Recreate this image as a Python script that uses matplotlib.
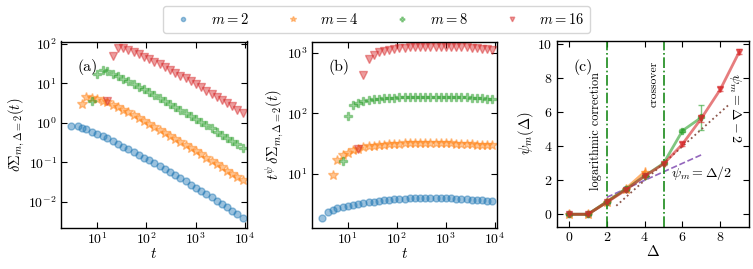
import numpy as np
import matplotlib
matplotlib.use("Agg")
import matplotlib.pyplot as plt
from matplotlib.ticker import LogLocator, NullLocator

plt.rcParams["font.family"] = "serif"
plt.rcParams["font.serif"] = ["cmr10", "DejaVu Serif"]
plt.rcParams["mathtext.fontset"] = "cm"
plt.rcParams["axes.formatter.use_mathtext"] = True
plt.rcParams["axes.unicode_minus"] = False
plt.rcParams["font.size"] = 10

# time grid shared by all curves (each series starts later)
t = [3, 4, 5, 6, 8, 10, 13, 16, 21, 27, 34, 43, 55, 70, 90, 114, 145, 185,
     236, 301, 384, 489, 623, 794, 1012, 1290, 1644, 2095, 2670, 3403, 4337,
     5527, 7044, 8978]

labels = ["$m=2$", "$m=4$", "$m=8$", "$m=16$"]
colors = ["#1f77b4", "#ff7f0e", "#2ca02c", "#d62728"]
markers = ["o", "*", "P", "v"]

# t^psi * dSigma  (panel b)
scaled_m2 = [1.85, 2.29, 2.5, 2.67, 2.81, 2.95, 3.07, 3.19, 3.31, 3.4, 3.47,
             3.57, 3.66, 3.71, 3.78, 3.84, 3.88, 3.91, 3.93, 3.95, 3.96, 3.97,
             3.97, 3.96, 3.95, 3.92, 3.88, 3.84, 3.8, 3.75, 3.7, 3.64, 3.58, 3.53]
scaled_m4 = [9.6, 16.6, 20.4, 22.5, 24.5, 26, 27.3, 28.4, 29.2, 29.9, 30.4,
             30.8, 31.2, 31.5, 31.8, 32, 32.1, 32.2, 32.3, 32.3, 32.3, 32.2,
             32.1, 31.9, 31.7, 31.4, 31.1, 30.8, 30.5, 30.2, 29.8, 29.5]
scaled_m8 = [16, 92, 138, 150, 160, 166, 170, 174, 177, 180, 183, 185, 187,
             188, 189, 190, 190, 190, 190, 190, 189, 188, 187, 186, 184, 182,
             180, 178, 176, 173]
scaled_m16 = [26, 436, 805, 940, 1025, 1085, 1130, 1165, 1195, 1215, 1235,
              1250, 1260, 1270, 1275, 1280, 1280, 1280, 1275, 1265, 1255, 1240,
              1220, 1200, 1180, 1160, 1135]
# exponent psi_m(Delta=2) used for the rescaling
psi_d2 = [0.745, 0.74, 0.725, 0.71]

# panel c
delta = [0, 1, 2, 3, 4, 5, 6, 7, 8, 9]
psi_m2 = [0, 0, 0.74, 1.5]
psi_m4 = [0, 0, 0.74, 1.5, 2.5]
psi_m8 = [0, 0, 0.72, 1.47, 2.25, 3.0, 4.92, 5.7]
psi_m16 = [0, 0, 0.7, 1.43, 2.25, 2.96, 4.13, 5.65, 7.35, 9.56]
err_m8 = [0.02, 0.02, 0.05, 0.05, 0.05, 0.05, 0.1, 0.72]
err_m16 = [0.02, 0.02, 0.05, 0.05, 0.05, 0.05, 0.1, 0.2, 0.12, 0.15]

scaled = [scaled_m2, scaled_m4, scaled_m8, scaled_m16]
psis = [psi_m2, psi_m4, psi_m8, psi_m16]
errs = [None, None, err_m8, err_m16]

fig = plt.figure(figsize=(7.53, 2.69), dpi=100)
axa = fig.add_axes([61/753, 41.5/269, 186/753, 186/269])
axb = fig.add_axes([311.7/753, 41.5/269, 185/753, 186/269])
axc = fig.add_axes([556.7/753, 42.5/269, 192/753, 185.5/269])

msz = [5, 7, 5.5, 5.5]
for i in range(4):
    y = np.array(scaled[i])
    tt = np.array(t[-len(y):], dtype=float)
    raw = y / tt ** psi_d2[i]
    kw = dict(ls="none", marker=markers[i], ms=msz[i], color=colors[i],
              alpha=0.45, mec=colors[i], mew=1.0)
    axa.plot(tt, raw, label=labels[i], **kw)
    axb.plot(tt, y, **kw)

for ax in (axa, axb):
    ax.set_xscale("log")
    ax.set_yscale("log")
    ax.set_xlim(1.84, 11000)
    ax.xaxis.set_major_locator(LogLocator(base=10, numticks=10))
    ax.xaxis.set_minor_locator(NullLocator())
    ax.yaxis.set_minor_locator(NullLocator())
    ax.set_xlabel("$t$", fontsize=11, labelpad=0)

axa.set_ylim(10**-2.65, 10**2.06)
axb.set_ylim(1.29, 10**3.19)
axa.set_ylabel(r"$\delta\Sigma_{m,\Delta=2}(t)$", fontsize=10.5, labelpad=1)
axb.set_ylabel(r"$t^{\psi}\,\delta\Sigma_{m,\Delta=2}(t)$", fontsize=10.5, labelpad=1)

for i in range(4):
    d = delta[:len(psis[i])]
    if errs[i] is None:
        axc.plot(d, psis[i], color=colors[i], marker=markers[i], ms=msz[i] - 0.5,
                 lw=2, alpha=0.6)
    else:
        axc.errorbar(d, psis[i], yerr=errs[i], color=colors[i], marker=markers[i],
                     ms=msz[i] - 0.5, lw=2, alpha=0.6, capsize=2, elinewidth=1)

dl = np.array([2, 7])
axc.plot(dl, dl / 2, color="#9467bd", ls="--", lw=1.2)
dl2 = np.array([2.5, 8.5])
axc.plot(dl2, dl2 - 2, color="#8c564b", ls=":", lw=1.3)
for xv in (2, 5):
    axc.axvline(xv, color="#1a8a1a", ls="-.", lw=1.2)
axc.text(1.45, 4.9, "logarithmic correction", rotation=90, ha="center",
         va="center", fontsize=8.8)
axc.text(4.5, 7.7, "crossover", rotation=90, ha="center", va="center", fontsize=8.3)
axc.text(6.98, 2.4, r"$\psi_m=\Delta/2$", ha="center", va="center", fontsize=10)
axc.text(8.75, 6.25, r"$\psi_m=\Delta-2$", rotation=270, ha="center",
         va="center", fontsize=10)
axc.set_xlim(-0.65, 9.5)
axc.set_ylim(-0.72, 10.2)
axc.set_xticks([0, 2, 4, 6, 8])
axc.set_yticks([0, 2, 4, 6, 8, 10])
axc.set_xlabel(r"$\Delta$", fontsize=11, labelpad=0)
axc.set_ylabel(r"$\psi_m(\Delta)$", fontsize=10.5, labelpad=1)

for ax, tag in zip((axa, axb, axc), ["(a)", "(b)", "(c)"]):
    ax.tick_params(which="both", direction="in", top=True, right=True,
                   labelsize=10, length=4, width=0.8, pad=3)
    ax.text(0.09, 0.84, tag, transform=ax.transAxes, fontsize=11.5)
    for s in ax.spines.values():
        s.set_linewidth(1.0)

h, l = axa.get_legend_handles_labels()
fig.legend(h, l, loc="center", bbox_to_anchor=(0.5, 0.927), ncol=4,
           fontsize=10.5, markerscale=0.6, handletextpad=0.9, columnspacing=2.0,
           frameon=True, edgecolor="#cccccc", borderpad=0.4)

fig.savefig("out.png", dpi=100)
